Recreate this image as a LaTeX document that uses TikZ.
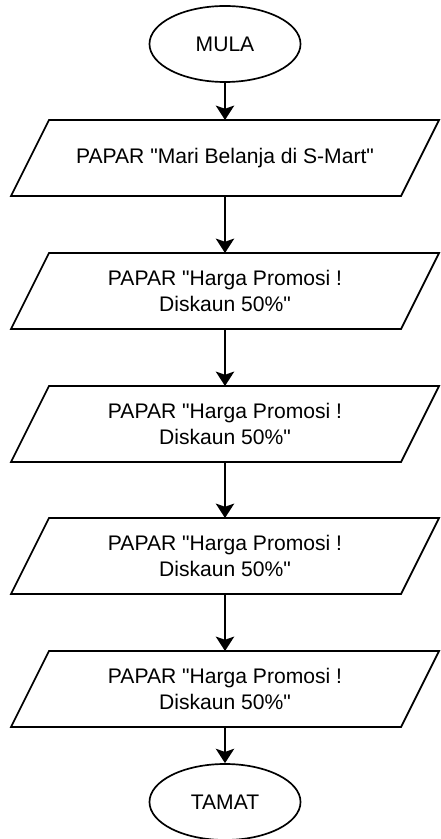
\documentclass[tikz,border=0pt]{standalone}
\usepackage{fontspec}
\newfontfamily\chartfont{Liberation Sans}
\usepackage{tikz}
\usetikzlibrary{arrows.meta,positioning,shapes.geometric}

\tikzset{
  terminal/.style={draw,ellipse,line width=1.2pt,minimum width=3.775cm,minimum height=1.9cm,inner sep=0pt},
  iobox/.style={rectangle,minimum width=9.75cm,minimum height=1.9cm,inner sep=0pt,outer sep=0pt,align=center},
  ioline/.style={line width=1.2pt,line join=miter},
  flow/.style={line width=1.2pt,-{Stealth[length=0.36cm,width=0.46cm,inset=0.08cm]}}
}

\begin{document}
\begin{tikzpicture}[x=0.025cm,y=-0.025cm,font=\chartfont\fontsize{15}{18.5}\selectfont]
\useasboundingbox (0,0) rectangle (440,839);
% mula
\node[terminal] (mula) at (225,44) {MULA};
\node[iobox] (p1) at (225,158) {PAPAR "Mari Belanja di S-Mart"};
% papar promosi
\foreach \i/\y in {2/291,3/424,4/556,5/689}{
  \node[iobox] (p\i) at (225,\y) {PAPAR "Harga Promosi !\\Diskaun 50\%"};}
% sisi condong
\foreach \n in {p1,p2,p3,p4,p5}
  \draw[ioline] ([xshift=-0.475cm]\n.south west) -- ([xshift=0.475cm]\n.north west)
    -- ([xshift=0.475cm]\n.north east) -- ([xshift=-0.475cm]\n.south east) -- cycle;
% tamat
\node[terminal] (tamat) at (225,802) {TAMAT};
\foreach \a/\b in {mula/p1,p1/p2,p2/p3,p3/p4,p4/p5,p5/tamat}
  \draw[flow] (\a) -- (\b);
\end{tikzpicture}
\end{document}
